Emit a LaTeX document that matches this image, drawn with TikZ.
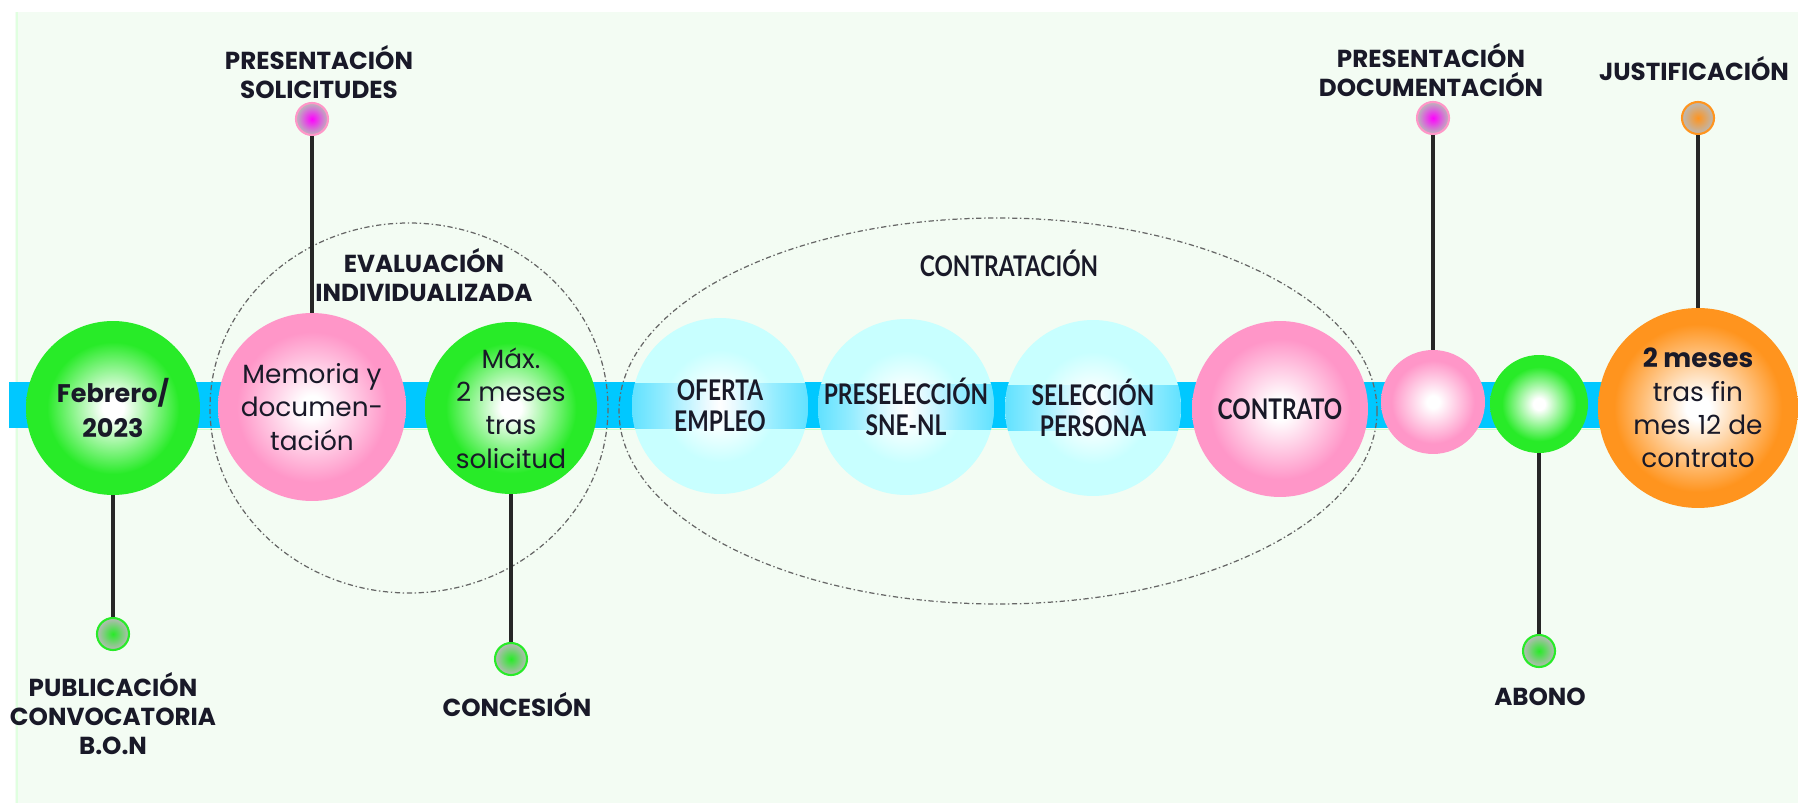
\documentclass[tikz,border=0pt]{standalone}
\usepackage{fontspec}
\setmainfont{Poppins}
\newfontfamily\narrowfont[FakeStretch=0.8]{Lato}
\usetikzlibrary{positioning}

\definecolor{pagegreen}{RGB}{243,252,243}
\definecolor{barblue}{RGB}{0,200,255}
\definecolor{ballgreen}{RGB}{40,235,40}
\definecolor{ballpink}{RGB}{255,150,200}
\definecolor{ballcyan}{RGB}{200,255,255}
\definecolor{ballorange}{RGB}{255,148,30}
\definecolor{dotgray}{RGB}{185,185,185}
\definecolor{ink}{RGB}{25,25,40}

\pgfdeclareradialshading{greenglow}{\pgfpoint{0bp}{0bp}}{color(0bp)=(white); color(3bp)=(white); color(19bp)=(ballgreen); color(25bp)=(ballgreen); color(50bp)=(ballgreen)}
\pgfdeclareradialshading{pinkglow}{\pgfpoint{0bp}{0bp}}{color(0bp)=(white); color(3bp)=(white); color(20bp)=(ballpink); color(25bp)=(ballpink); color(50bp)=(ballpink)}
\pgfdeclareradialshading{cyanglow}{\pgfpoint{0bp}{0bp}}{color(0bp)=(white); color(4bp)=(white); color(16bp)=(ballcyan); color(25bp)=(ballcyan); color(50bp)=(ballcyan)}
\pgfdeclareradialshading{orangeglow}{\pgfpoint{0bp}{0bp}}{color(0bp)=(white); color(3bp)=(white); color(21bp)=(ballorange); color(25bp)=(ballorange); color(50bp)=(ballorange)}

\tikzset{
  ball/.style={circle, inner sep=0pt, align=center, text=ink, font=\fontsize{15}{19}\selectfont},
  greenball/.style={ball, shade, shading=greenglow},
  pinkball/.style={ball, shade, shading=pinkglow},
  orangeball/.style={ball, shade, shading=orangeglow},
  cyanball/.style={ball, shade, shading=cyanglow, minimum size=3.52cm,
    font=\narrowfont\bfseries\fontsize{16.2}{17.5}\selectfont,
    path picture={\shade[left color=barblue, right color=barblue, middle color=white, fill opacity=0.6]
      ([shift={(-2cm,-0.46cm)}]path picture bounding box.center) rectangle
      ([shift={(2cm,0.46cm)}]path picture bounding box.center);}},
  dot/.style={circle, inner sep=0pt, minimum size=0.64cm, line width=1.2pt, outer color=dotgray},
  stem/.style={line width=2.2pt, black!85},
  lbl/.style={align=center, inner sep=0pt, text=ink, font=\bfseries\fontsize{14}{16.5}\selectfont},
  group/.style={draw=black!60, line width=0.7pt, dash pattern=on 3pt off 1.5pt on 0.8pt off 1.5pt},
}

\begin{document}
\begin{tikzpicture}[x=0.02cm, y=-0.02cm]
    \useasboundingbox (0,0) rectangle (1798,803);

    % Page and time bar
    \fill[pagegreen] (15,12) rectangle (1798,803);
    \draw[green!12, line width=1pt] (17,12) -- (17,803);
    \fill[barblue] (9,382) rectangle (1650,428);
    \draw[green!20, line width=1pt] (60,429.5) -- (1600,429.5);

    % Phase outlines
    \draw[group] (409,408) ellipse (199 and 185);
    \draw[group] (998,411) ellipse (379 and 193);

    % Milestones on the bar
    \node[greenball, minimum size=3.48cm, font=\bfseries\fontsize{14.5}{19.5}\selectfont] (feb) at (113,408) {Febrero/\\2023};
    \node[pinkball, minimum size=3.76cm] (memo) at (312,407) {Memoria y\\documen-\\tación};
    \node[greenball, minimum size=3.44cm] (maxsol) at (511,408) {Máx.\\2 meses\\tras\\solicitud};
    \node[cyanball] (oferta) at (720,406) {OFERTA\\EMPLEO};
    \node[cyanball] (presel) at (906,407) {PRESELECCIÓN\\SNE-NL};
    \node[cyanball] (selec) at (1093,408) {SELECCIÓN\\PERSONA};
    \node[pinkball, minimum size=3.52cm, font=\narrowfont\bfseries\fontsize{16.2}{17.5}\selectfont] (contrato) at (1280,409) {CONTRATO};
    \node[pinkball, minimum size=2.08cm] (docball) at (1433,402) {};
    \node[greenball, minimum size=1.96cm] (abonoball) at (1539,404) {};
    \node[orangeball, minimum size=4cm] (justball) at (1698,408) {{\bfseries 2 meses}\\tras fin\\mes 12 de\\contrato};

    % Event markers
    \node[dot, draw=ballpink, inner color=magenta] (solic) at (312,119) {};
    \node[dot, draw=ballgreen, inner color=ballgreen] (publ) at (113,634) {};
    \node[dot, draw=ballgreen, inner color=ballgreen] (conc) at (511,659) {};
    \node[dot, draw=ballpink, inner color=magenta] (docu) at (1433,118) {};
    \node[dot, draw=ballgreen, inner color=ballgreen] (abono) at (1539,651) {};
    \node[dot, draw=ballorange, inner color=ballorange] (justi) at (1698,118) {};

    % Stems
    \draw[stem] (solic) -- (memo);
    \draw[stem] (feb) -- (publ);
    \draw[stem] (maxsol) -- (conc);
    \draw[stem] (docu) -- (docball);
    \draw[stem] (abonoball) -- (abono);
    \draw[stem] (justi) -- (justball);

    % Labels
    \node[lbl] (solicl) at (319,72) {PRESENTACIÓN\\SOLICITUDES};
    \node[lbl] (publl) at (113,714) {PUBLICACIÓN\\CONVOCATORIA\\B.O.N};
    \node[lbl] (concl) at (517,705) {CONCESIÓN};
    \node[lbl] (evall) at (424,275) {EVALUACIÓN\\INDIVIDUALIZADA};
    \node[lbl, font=\narrowfont\bfseries\fontsize{16.2}{17.5}\selectfont] (contl) at (1009,263) {CONTRATACIÓN};
    \node[lbl] (docul) at (1431,70) {PRESENTACIÓN\\DOCUMENTACIÓN};
    \node[lbl] (justil) at (1694,69) {JUSTIFICACIÓN};
    \node[lbl] (abonol) at (1540,697) {ABONO};
\end{tikzpicture}
\end{document}
